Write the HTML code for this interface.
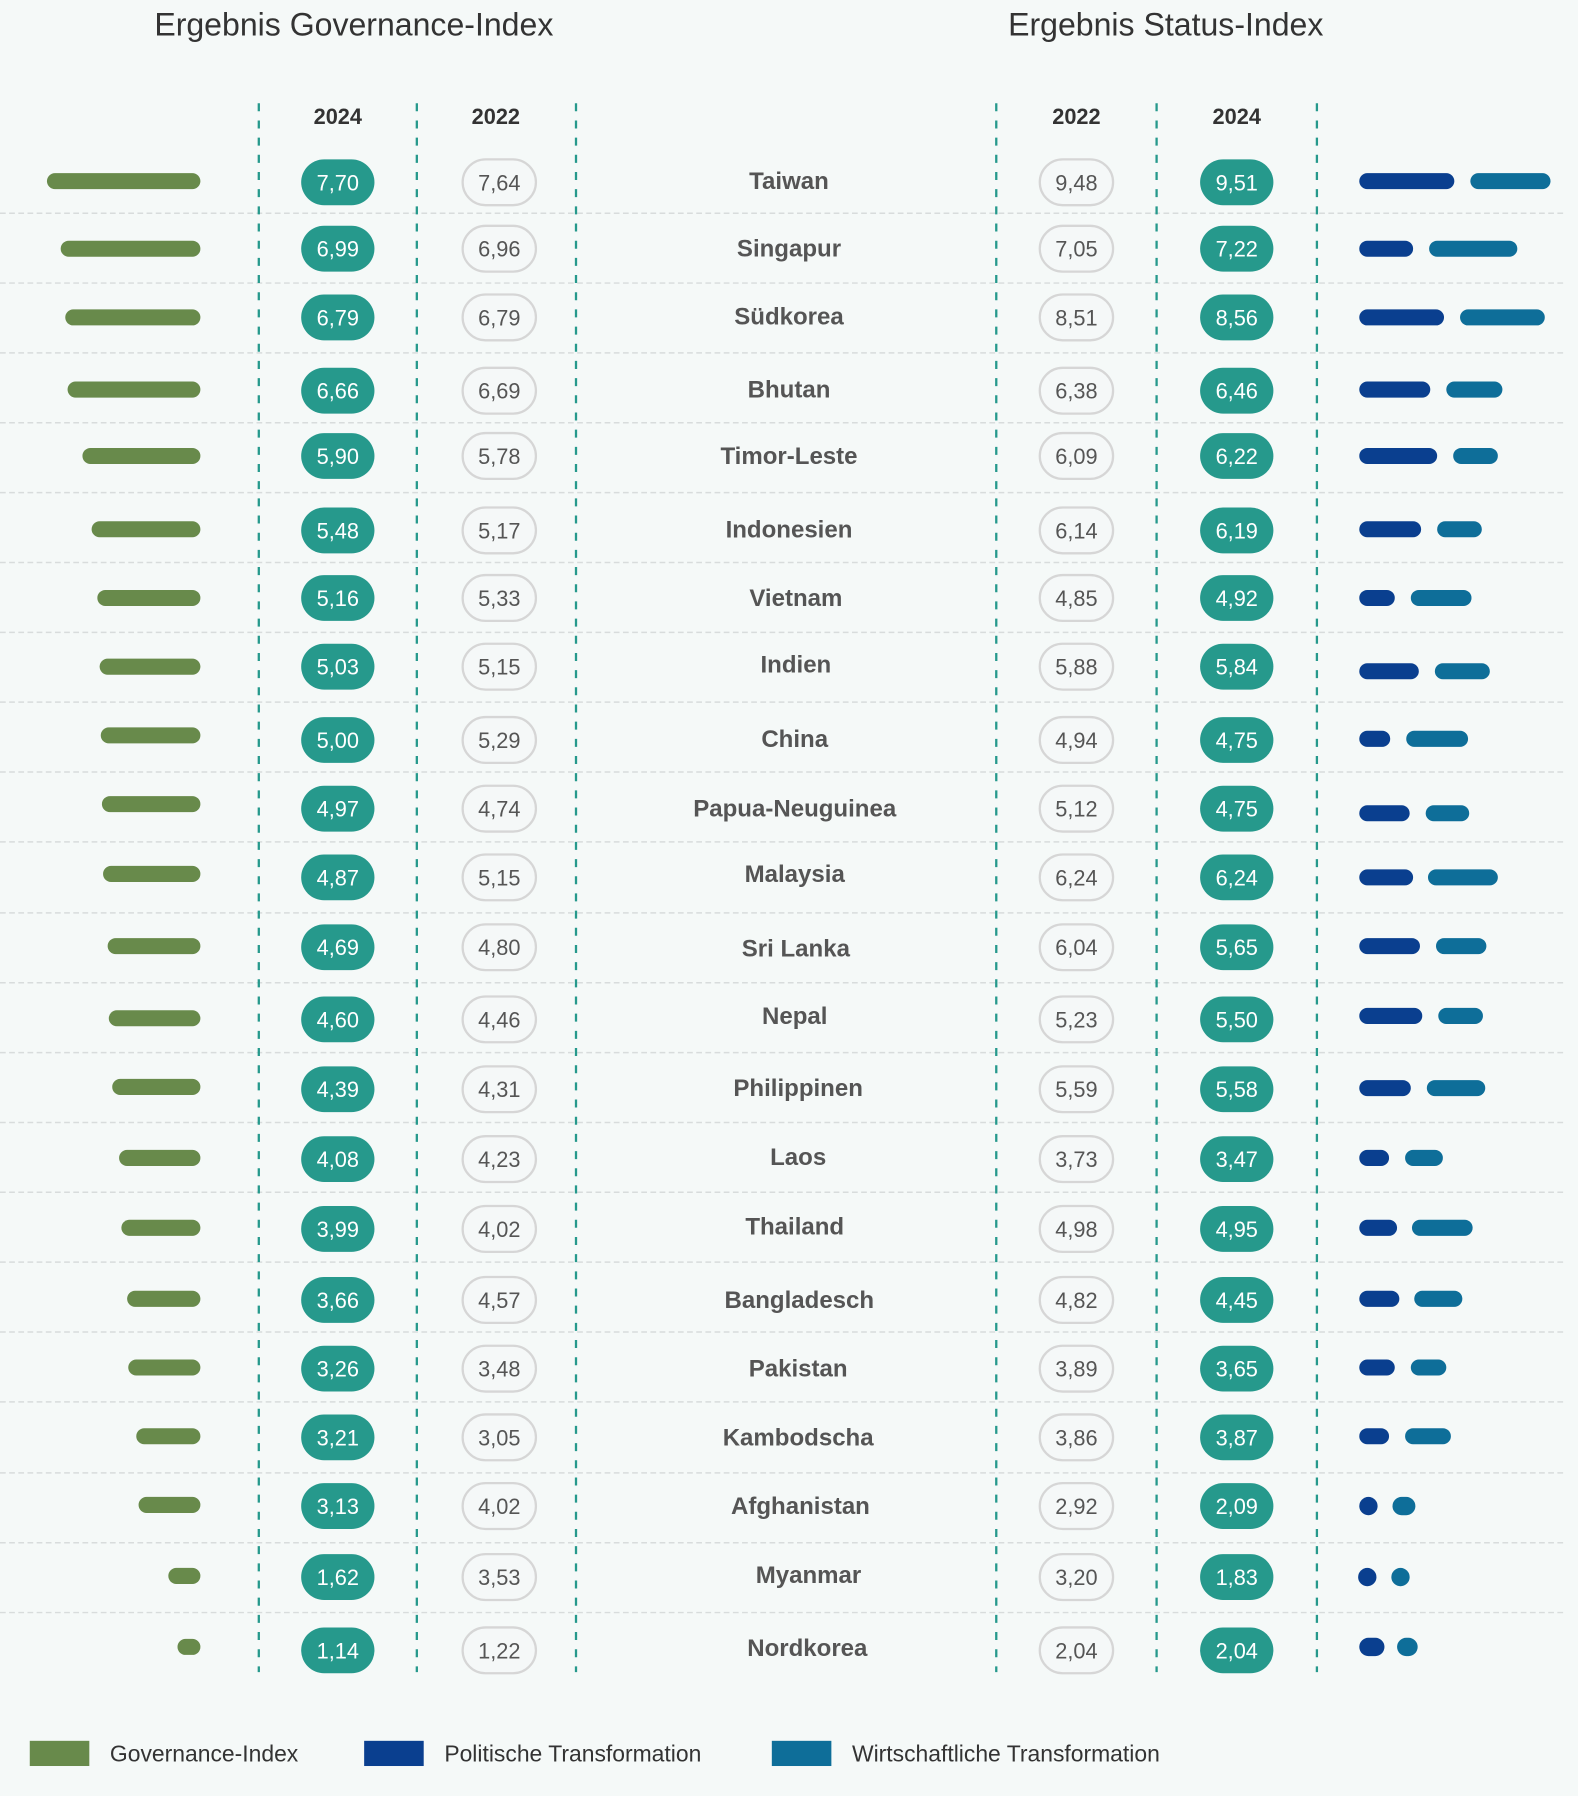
<!DOCTYPE html>
<html><head><meta charset="utf-8"><style>
html,body{margin:0;padding:0;background:#f5f9f8;}
svg{display:block;}
text{font-family:"Liberation Sans",sans-serif;}
.t{font-size:28px;fill:#333;text-anchor:middle;}
.h{font-size:19px;font-weight:bold;fill:#333;text-anchor:middle;}
.w{font-size:19px;fill:#fff;text-anchor:middle;}
.g{font-size:19px;fill:#555;text-anchor:middle;}
.n{font-size:21px;font-weight:bold;fill:#555;text-anchor:middle;}
.l{font-size:20px;fill:#333;}
.gb{fill:#688a4b}.b1{fill:#0a3f8f}.b2{fill:#0e6e99}
.f{fill:#26998c}.o{fill:#f5f8f8;stroke:#d6d6d6;stroke-width:2}
</style></head><body>
<svg width="1578" height="1796" viewBox="0 0 1378 1568" xmlns="http://www.w3.org/2000/svg">
<rect width="1378" height="1568" fill="#f5f9f8"/>
<text class="t" x="309" y="31">Ergebnis Governance-Index</text>
<text class="t" x="1018" y="31">Ergebnis Status-Index</text>
<text class="h" x="295" y="108">2024</text><text class="h" x="433" y="108">2022</text>
<text class="h" x="940" y="108">2022</text><text class="h" x="1080" y="108">2024</text>
<g stroke="#d8dcdc" stroke-width="1.3" stroke-dasharray="5,3">
<line x1="0" x2="1366" y1="186" y2="186"/><line x1="0" x2="1366" y1="247" y2="247"/><line x1="0" x2="1366" y1="308" y2="308"/><line x1="0" x2="1366" y1="369" y2="369"/><line x1="0" x2="1366" y1="430" y2="430"/><line x1="0" x2="1366" y1="491" y2="491"/><line x1="0" x2="1366" y1="552" y2="552"/><line x1="0" x2="1366" y1="613" y2="613"/><line x1="0" x2="1366" y1="674" y2="674"/><line x1="0" x2="1366" y1="735" y2="735"/><line x1="0" x2="1366" y1="797" y2="797"/><line x1="0" x2="1366" y1="858" y2="858"/><line x1="0" x2="1366" y1="919" y2="919"/><line x1="0" x2="1366" y1="980" y2="980"/><line x1="0" x2="1366" y1="1041" y2="1041"/><line x1="0" x2="1366" y1="1102" y2="1102"/><line x1="0" x2="1366" y1="1163" y2="1163"/><line x1="0" x2="1366" y1="1224" y2="1224"/><line x1="0" x2="1366" y1="1286" y2="1286"/><line x1="0" x2="1366" y1="1347" y2="1347"/><line x1="0" x2="1366" y1="1408" y2="1408"/>
</g>
<g stroke="#26998c" stroke-width="2" stroke-dasharray="7,8">
<line x1="226" x2="226" y1="90" y2="1460"/><line x1="364" x2="364" y1="90" y2="1460"/><line x1="503" x2="503" y1="90" y2="1460"/><line x1="870" x2="870" y1="90" y2="1460"/><line x1="1010" x2="1010" y1="90" y2="1460"/><line x1="1150" x2="1150" y1="90" y2="1460"/>
</g>

<rect class="gb" x="41" y="151" width="134" height="14" rx="7"/><rect class="f" x="263" y="139" width="64" height="40" rx="20"/><text class="w" x="295" y="166">7,70</text><rect class="o" x="404" y="139" width="64" height="40" rx="20"/><text class="g" x="436" y="166">7,64</text><text class="n" x="689" y="165">Taiwan</text><rect class="o" x="908" y="139" width="64" height="40" rx="20"/><text class="g" x="940" y="166">9,48</text><rect class="f" x="1048" y="139" width="64" height="40" rx="20"/><text class="w" x="1080" y="166">9,51</text><rect class="b1" x="1187" y="151" width="83" height="14" rx="7"/><rect class="b2" x="1284" y="151" width="70" height="14" rx="7"/>

<rect class="gb" x="53" y="210" width="122" height="14" rx="7"/><rect class="f" x="263" y="197" width="64" height="40" rx="20"/><text class="w" x="295" y="224">6,99</text><rect class="o" x="404" y="197" width="64" height="40" rx="20"/><text class="g" x="436" y="224">6,96</text><text class="n" x="689" y="224">Singapur</text><rect class="o" x="908" y="197" width="64" height="40" rx="20"/><text class="g" x="940" y="224">7,05</text><rect class="f" x="1048" y="197" width="64" height="40" rx="20"/><text class="w" x="1080" y="224">7,22</text><rect class="b1" x="1187" y="210" width="47" height="14" rx="7"/><rect class="b2" x="1248" y="210" width="77" height="14" rx="7"/>

<rect class="gb" x="57" y="270" width="118" height="14" rx="7"/><rect class="f" x="263" y="257" width="64" height="40" rx="20"/><text class="w" x="295" y="284">6,79</text><rect class="o" x="404" y="257" width="64" height="40" rx="20"/><text class="g" x="436" y="284">6,79</text><text class="n" x="689" y="283">Südkorea</text><rect class="o" x="908" y="257" width="64" height="40" rx="20"/><text class="g" x="940" y="284">8,51</text><rect class="f" x="1048" y="257" width="64" height="40" rx="20"/><text class="w" x="1080" y="284">8,56</text><rect class="b1" x="1187" y="270" width="74" height="14" rx="7"/><rect class="b2" x="1275" y="270" width="74" height="14" rx="7"/>

<rect class="gb" x="59" y="333" width="116" height="14" rx="7"/><rect class="f" x="263" y="321" width="64" height="40" rx="20"/><text class="w" x="295" y="348">6,66</text><rect class="o" x="404" y="321" width="64" height="40" rx="20"/><text class="g" x="436" y="348">6,69</text><text class="n" x="689" y="347">Bhutan</text><rect class="o" x="908" y="321" width="64" height="40" rx="20"/><text class="g" x="940" y="348">6,38</text><rect class="f" x="1048" y="321" width="64" height="40" rx="20"/><text class="w" x="1080" y="348">6,46</text><rect class="b1" x="1187" y="333" width="62" height="14" rx="7"/><rect class="b2" x="1263" y="333" width="49" height="14" rx="7"/>

<rect class="gb" x="72" y="391" width="103" height="14" rx="7"/><rect class="f" x="263" y="378" width="64" height="40" rx="20"/><text class="w" x="295" y="405">5,90</text><rect class="o" x="404" y="378" width="64" height="40" rx="20"/><text class="g" x="436" y="405">5,78</text><text class="n" x="689" y="405">Timor-Leste</text><rect class="o" x="908" y="378" width="64" height="40" rx="20"/><text class="g" x="940" y="405">6,09</text><rect class="f" x="1048" y="378" width="64" height="40" rx="20"/><text class="w" x="1080" y="405">6,22</text><rect class="b1" x="1187" y="391" width="68" height="14" rx="7"/><rect class="b2" x="1269" y="391" width="39" height="14" rx="7"/>

<rect class="gb" x="80" y="455" width="95" height="14" rx="7"/><rect class="f" x="263" y="443" width="64" height="40" rx="20"/><text class="w" x="295" y="470">5,48</text><rect class="o" x="404" y="443" width="64" height="40" rx="20"/><text class="g" x="436" y="470">5,17</text><text class="n" x="689" y="469">Indonesien</text><rect class="o" x="908" y="443" width="64" height="40" rx="20"/><text class="g" x="940" y="470">6,14</text><rect class="f" x="1048" y="443" width="64" height="40" rx="20"/><text class="w" x="1080" y="470">6,19</text><rect class="b1" x="1187" y="455" width="54" height="14" rx="7"/><rect class="b2" x="1255" y="455" width="39" height="14" rx="7"/>

<rect class="gb" x="85" y="515" width="90" height="14" rx="7"/><rect class="f" x="263" y="502" width="64" height="40" rx="20"/><text class="w" x="295" y="529">5,16</text><rect class="o" x="404" y="502" width="64" height="40" rx="20"/><text class="g" x="436" y="529">5,33</text><text class="n" x="695" y="529">Vietnam</text><rect class="o" x="908" y="502" width="64" height="40" rx="20"/><text class="g" x="940" y="529">4,85</text><rect class="f" x="1048" y="502" width="64" height="40" rx="20"/><text class="w" x="1080" y="529">4,92</text><rect class="b1" x="1187" y="515" width="31" height="14" rx="7"/><rect class="b2" x="1232" y="515" width="53" height="14" rx="7"/>

<rect class="gb" x="87" y="575" width="88" height="14" rx="7"/><rect class="f" x="263" y="562" width="64" height="40" rx="20"/><text class="w" x="295" y="589">5,03</text><rect class="o" x="404" y="562" width="64" height="40" rx="20"/><text class="g" x="436" y="589">5,15</text><text class="n" x="695" y="587">Indien</text><rect class="o" x="908" y="562" width="64" height="40" rx="20"/><text class="g" x="940" y="589">5,88</text><rect class="f" x="1048" y="562" width="64" height="40" rx="20"/><text class="w" x="1080" y="589">5,84</text><rect class="b1" x="1187" y="579" width="52" height="14" rx="7"/><rect class="b2" x="1253" y="579" width="48" height="14" rx="7"/>

<rect class="gb" x="88" y="635" width="87" height="14" rx="7"/><rect class="f" x="263" y="626" width="64" height="40" rx="20"/><text class="w" x="295" y="653">5,00</text><rect class="o" x="404" y="626" width="64" height="40" rx="20"/><text class="g" x="436" y="653">5,29</text><text class="n" x="694" y="652">China</text><rect class="o" x="908" y="626" width="64" height="40" rx="20"/><text class="g" x="940" y="653">4,94</text><rect class="f" x="1048" y="626" width="64" height="40" rx="20"/><text class="w" x="1080" y="653">4,75</text><rect class="b1" x="1187" y="638" width="27" height="14" rx="7"/><rect class="b2" x="1228" y="638" width="54" height="14" rx="7"/>

<rect class="gb" x="89" y="695" width="86" height="14" rx="7"/><rect class="f" x="263" y="686" width="64" height="40" rx="20"/><text class="w" x="295" y="713">4,97</text><rect class="o" x="404" y="686" width="64" height="40" rx="20"/><text class="g" x="436" y="713">4,74</text><text class="n" x="694" y="713">Papua-Neuguinea</text><rect class="o" x="908" y="686" width="64" height="40" rx="20"/><text class="g" x="940" y="713">5,12</text><rect class="f" x="1048" y="686" width="64" height="40" rx="20"/><text class="w" x="1080" y="713">4,75</text><rect class="b1" x="1187" y="703" width="44" height="14" rx="7"/><rect class="b2" x="1245" y="703" width="38" height="14" rx="7"/>

<rect class="gb" x="90" y="756" width="85" height="14" rx="7"/><rect class="f" x="263" y="746" width="64" height="40" rx="20"/><text class="w" x="295" y="773">4,87</text><rect class="o" x="404" y="746" width="64" height="40" rx="20"/><text class="g" x="436" y="773">5,15</text><text class="n" x="694" y="770">Malaysia</text><rect class="o" x="908" y="746" width="64" height="40" rx="20"/><text class="g" x="940" y="773">6,24</text><rect class="f" x="1048" y="746" width="64" height="40" rx="20"/><text class="w" x="1080" y="773">6,24</text><rect class="b1" x="1187" y="759" width="47" height="14" rx="7"/><rect class="b2" x="1247" y="759" width="61" height="14" rx="7"/>

<rect class="gb" x="94" y="819" width="81" height="14" rx="7"/><rect class="f" x="263" y="807" width="64" height="40" rx="20"/><text class="w" x="295" y="834">4,69</text><rect class="o" x="404" y="807" width="64" height="40" rx="20"/><text class="g" x="436" y="834">4,80</text><text class="n" x="695" y="835">Sri Lanka</text><rect class="o" x="908" y="807" width="64" height="40" rx="20"/><text class="g" x="940" y="834">6,04</text><rect class="f" x="1048" y="807" width="64" height="40" rx="20"/><text class="w" x="1080" y="834">5,65</text><rect class="b1" x="1187" y="819" width="53" height="14" rx="7"/><rect class="b2" x="1254" y="819" width="44" height="14" rx="7"/>

<rect class="gb" x="95" y="882" width="80" height="14" rx="7"/><rect class="f" x="263" y="870" width="64" height="40" rx="20"/><text class="w" x="295" y="897">4,60</text><rect class="o" x="404" y="870" width="64" height="40" rx="20"/><text class="g" x="436" y="897">4,46</text><text class="n" x="694" y="894">Nepal</text><rect class="o" x="908" y="870" width="64" height="40" rx="20"/><text class="g" x="940" y="897">5,23</text><rect class="f" x="1048" y="870" width="64" height="40" rx="20"/><text class="w" x="1080" y="897">5,50</text><rect class="b1" x="1187" y="880" width="55" height="14" rx="7"/><rect class="b2" x="1256" y="880" width="39" height="14" rx="7"/>

<rect class="gb" x="98" y="942" width="77" height="14" rx="7"/><rect class="f" x="263" y="931" width="64" height="40" rx="20"/><text class="w" x="295" y="958">4,39</text><rect class="o" x="404" y="931" width="64" height="40" rx="20"/><text class="g" x="436" y="958">4,31</text><text class="n" x="697" y="957">Philippinen</text><rect class="o" x="908" y="931" width="64" height="40" rx="20"/><text class="g" x="940" y="958">5,59</text><rect class="f" x="1048" y="931" width="64" height="40" rx="20"/><text class="w" x="1080" y="958">5,58</text><rect class="b1" x="1187" y="943" width="45" height="14" rx="7"/><rect class="b2" x="1246" y="943" width="51" height="14" rx="7"/>

<rect class="gb" x="104" y="1004" width="71" height="14" rx="7"/><rect class="f" x="263" y="992" width="64" height="40" rx="20"/><text class="w" x="295" y="1019">4,08</text><rect class="o" x="404" y="992" width="64" height="40" rx="20"/><text class="g" x="436" y="1019">4,23</text><text class="n" x="697" y="1017">Laos</text><rect class="o" x="908" y="992" width="64" height="40" rx="20"/><text class="g" x="940" y="1019">3,73</text><rect class="f" x="1048" y="992" width="64" height="40" rx="20"/><text class="w" x="1080" y="1019">3,47</text><rect class="b1" x="1187" y="1004" width="26" height="14" rx="7"/><rect class="b2" x="1227" y="1004" width="33" height="14" rx="7"/>

<rect class="gb" x="106" y="1065" width="69" height="14" rx="7"/><rect class="f" x="263" y="1053" width="64" height="40" rx="20"/><text class="w" x="295" y="1080">3,99</text><rect class="o" x="404" y="1053" width="64" height="40" rx="20"/><text class="g" x="436" y="1080">4,02</text><text class="n" x="694" y="1078">Thailand</text><rect class="o" x="908" y="1053" width="64" height="40" rx="20"/><text class="g" x="940" y="1080">4,98</text><rect class="f" x="1048" y="1053" width="64" height="40" rx="20"/><text class="w" x="1080" y="1080">4,95</text><rect class="b1" x="1187" y="1065" width="33" height="14" rx="7"/><rect class="b2" x="1233" y="1065" width="53" height="14" rx="7"/>

<rect class="gb" x="111" y="1127" width="64" height="14" rx="7"/><rect class="f" x="263" y="1115" width="64" height="40" rx="20"/><text class="w" x="295" y="1142">3,66</text><rect class="o" x="404" y="1115" width="64" height="40" rx="20"/><text class="g" x="436" y="1142">4,57</text><text class="n" x="698" y="1142">Bangladesch</text><rect class="o" x="908" y="1115" width="64" height="40" rx="20"/><text class="g" x="940" y="1142">4,82</text><rect class="f" x="1048" y="1115" width="64" height="40" rx="20"/><text class="w" x="1080" y="1142">4,45</text><rect class="b1" x="1187" y="1127" width="35" height="14" rx="7"/><rect class="b2" x="1235" y="1127" width="42" height="14" rx="7"/>

<rect class="gb" x="112" y="1187" width="63" height="14" rx="7"/><rect class="f" x="263" y="1175" width="64" height="40" rx="20"/><text class="w" x="295" y="1202">3,26</text><rect class="o" x="404" y="1175" width="64" height="40" rx="20"/><text class="g" x="436" y="1202">3,48</text><text class="n" x="697" y="1202">Pakistan</text><rect class="o" x="908" y="1175" width="64" height="40" rx="20"/><text class="g" x="940" y="1202">3,89</text><rect class="f" x="1048" y="1175" width="64" height="40" rx="20"/><text class="w" x="1080" y="1202">3,65</text><rect class="b1" x="1187" y="1187" width="31" height="14" rx="7"/><rect class="b2" x="1232" y="1187" width="31" height="14" rx="7"/>

<rect class="gb" x="119" y="1247" width="56" height="14" rx="7"/><rect class="f" x="263" y="1235" width="64" height="40" rx="20"/><text class="w" x="295" y="1262">3,21</text><rect class="o" x="404" y="1235" width="64" height="40" rx="20"/><text class="g" x="436" y="1262">3,05</text><text class="n" x="697" y="1262">Kambodscha</text><rect class="o" x="908" y="1235" width="64" height="40" rx="20"/><text class="g" x="940" y="1262">3,86</text><rect class="f" x="1048" y="1235" width="64" height="40" rx="20"/><text class="w" x="1080" y="1262">3,87</text><rect class="b1" x="1187" y="1247" width="26" height="14" rx="7"/><rect class="b2" x="1227" y="1247" width="40" height="14" rx="7"/>

<rect class="gb" x="121" y="1307" width="54" height="14" rx="7"/><rect class="f" x="263" y="1295" width="64" height="40" rx="20"/><text class="w" x="295" y="1322">3,13</text><rect class="o" x="404" y="1295" width="64" height="40" rx="20"/><text class="g" x="436" y="1322">4,02</text><text class="n" x="699" y="1322">Afghanistan</text><rect class="o" x="908" y="1295" width="64" height="40" rx="20"/><text class="g" x="940" y="1322">2,92</text><rect class="f" x="1048" y="1295" width="64" height="40" rx="20"/><text class="w" x="1080" y="1322">2,09</text><rect class="b1" x="1187" y="1307" width="16" height="16" rx="8"/><rect class="b2" x="1216" y="1307" width="20" height="16" rx="8"/>

<rect class="gb" x="147" y="1369" width="28" height="14" rx="7"/><rect class="f" x="263" y="1357" width="64" height="40" rx="20"/><text class="w" x="295" y="1384">1,62</text><rect class="o" x="404" y="1357" width="64" height="40" rx="20"/><text class="g" x="436" y="1384">3,53</text><text class="n" x="706" y="1382">Myanmar</text><rect class="o" x="908" y="1357" width="64" height="40" rx="20"/><text class="g" x="940" y="1384">3,20</text><rect class="f" x="1048" y="1357" width="64" height="40" rx="20"/><text class="w" x="1080" y="1384">1,83</text><rect class="b1" x="1186" y="1369" width="16" height="16" rx="8"/><rect class="b2" x="1215" y="1369" width="16" height="16" rx="8"/>

<rect class="gb" x="155" y="1431" width="20" height="14" rx="7"/><rect class="f" x="263" y="1421" width="64" height="40" rx="20"/><text class="w" x="295" y="1448">1,14</text><rect class="o" x="404" y="1421" width="64" height="40" rx="20"/><text class="g" x="436" y="1448">1,22</text><text class="n" x="705" y="1446">Nordkorea</text><rect class="o" x="908" y="1421" width="64" height="40" rx="20"/><text class="g" x="940" y="1448">2,04</text><rect class="f" x="1048" y="1421" width="64" height="40" rx="20"/><text class="w" x="1080" y="1448">2,04</text><rect class="b1" x="1187" y="1430" width="22" height="16" rx="8"/><rect class="b2" x="1220" y="1430" width="18" height="16" rx="8"/>

<rect class="gb" x="26" y="1520" width="52" height="22"/><text class="l" x="96" y="1538">Governance-Index</text>
<rect class="b1" x="318" y="1520" width="52" height="22"/><text class="l" x="388" y="1538">Politische Transformation</text>
<rect class="b2" x="674" y="1520" width="52" height="22"/><text class="l" x="744" y="1538">Wirtschaftliche Transformation</text>
</svg>
</body></html>
